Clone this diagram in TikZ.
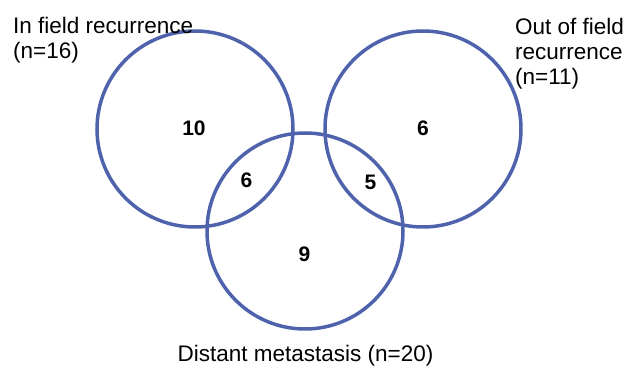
\documentclass[tikz,border=0pt]{standalone}
\usepackage{fontspec}
\setmainfont{Liberation Sans}
\usepackage{xcolor}
\definecolor{vennblue}{RGB}{79,99,173}
\usetikzlibrary{positioning}

\begin{document}
\begin{tikzpicture}[x=1pt, y=-1pt,
  set/.style={draw=vennblue, line width=3.5pt, circle, minimum size=196pt, inner sep=0pt},
  count/.style={inner sep=0pt, font=\fontsize{21}{25}\selectfont\bfseries},
  caption/.style={inner sep=0pt, align=left, font=\fontsize{22.5}{25.5}\selectfont}]
\useasboundingbox (0,0) rectangle (625,371);

% Sets
\node[set] (infield) at (195,129) {};
\node[set] (outfield) at (423,129) {};
\node[set] (distant) at (305,231) {};

% Labels
\node[caption, anchor=north west] (infieldlabel) at (13,16.5) {In field recurrence\\(n=16)};
\node[caption, anchor=north west] (outfieldlabel) at (515,17.5) {Out of field\\recurrence\\(n=11)};
\node[caption, anchor=base] (distantlabel) at (305.5,362) {Distant metastasis (n=20)};

% Counts
\node[count] (onlyin) at (194,128) {10};
\node[count] (onlyout) at (423,128) {6};
\node[count] (indistant) at (246.5,180.5) {6};
\node[count] (outdistant) at (370.5,182.5) {5};
\node[count] (onlydistant) at (304.5,254.5) {9};
\end{tikzpicture}
\end{document}
